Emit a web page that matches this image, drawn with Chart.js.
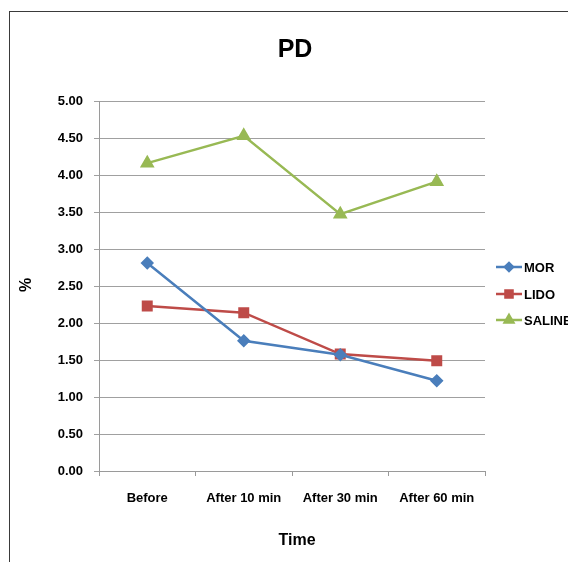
<!DOCTYPE html>
<html>
<head>
<meta charset="utf-8">
<script src="https://cdn.jsdelivr.net/npm/chart.js@4"></script>
<style>
    body { margin: 0; background: #fff; }
    #wrap { position: relative; width: 568px; height: 562px; overflow: hidden; }
    #frame { position: absolute; left: 9px; top: 11px; width: 600px; height: 600px; border: 1px solid #3a3a3a; }
    #PD__canvas { position: absolute; left: 0; top: 0; }
</style>
</head>
<body>
<div id="wrap">
    <div id="frame"></div>
    <canvas id="PD__canvas" width="568" height="562"></canvas>
</div>
<script>
var categories = ['Before', 'After 10 min', 'After 30 min', 'After 60 min'];
var mor = [2.81, 1.76, 1.57, 1.22];
var lido = [2.23, 2.14, 1.58, 1.49];
var saline = [4.16, 4.53, 3.47, 3.91];
var seriesNames = ['MOR', 'LIDO', 'SALINE'];

var boldFont = "'Liberation Sans', Arial, sans-serif";

// title, axis titles and legend drawn by hand
var extras = {
    id: 'extras',
    afterDraw: function (chart) {
        var c = chart.ctx;
        c.save();
        c.fillStyle = '#000';
        c.textAlign = 'center';
        c.textBaseline = 'middle';
        c.font = 'bold 25px ' + boldFont;
        c.fillText('PD', 295, 50);
        c.font = 'bold 16px ' + boldFont;
        c.fillText('Time', 297, 541);
        c.save();
        c.translate(27, 285);
        c.rotate(-Math.PI / 2);
        c.fillText('%', 0, 0);
        c.restore();

        var ys = [267, 294, 320];
        chart.data.datasets.forEach(function (ds, i) {
            var y = ys[i];
            c.strokeStyle = ds.borderColor;
            c.lineWidth = 2.5;
            c.beginPath();
            c.moveTo(496, y);
            c.lineTo(522, y);
            c.stroke();
            Chart.helpers.drawPoint(c, {
                pointStyle: ds.pointStyle,
                radius: ds.pointRadius - 1,
                borderWidth: 1
            }, 509, y);
            c.fillStyle = ds.borderColor;
            c.fill();
            c.fillStyle = '#000';
            c.textAlign = 'left';
            c.font = 'bold 13px ' + boldFont;
            c.fillText(ds.label, 524, y + 1);
        });
        c.restore();
    }
};

function PD_status() {
    var ctr = document.getElementById('PD__canvas');
    var line = new Chart(ctr, {
        type: 'line',
        data: {
            labels: categories,
            datasets: [{
                label: seriesNames[0],
                data: mor,
                borderColor: '#4A7EBB',
                backgroundColor: '#4A7EBB',
                pointStyle: 'rectRot',
                pointRadius: 5,
                borderWidth: 2.5,
                tension: 0
            }, {
                label: seriesNames[1],
                data: lido,
                borderColor: '#BE4B48',
                backgroundColor: '#BE4B48',
                pointStyle: 'rect',
                pointRadius: 6,
                borderWidth: 2.5,
                tension: 0
            }, {
                label: seriesNames[2],
                data: saline,
                borderColor: '#98B954',
                backgroundColor: '#98B954',
                pointStyle: 'triangle',
                pointRadius: 6,
                borderWidth: 2.5,
                tension: 0
            }]
        },
        options: {
            responsive: false,
            animation: false,
            layout: {
                padding: { left: 50, top: 101, right: 83, bottom: 41 }
            },
            plugins: {
                legend: { display: false },
                title: { display: false },
                tooltip: { enabled: false }
            },
            scales: {
                x: {
                    offset: true,
                    afterFit: function (scale) { scale.height = 50; },
                    grid: {
                        offset: true,
                        drawOnChartArea: false,
                        drawTicks: true,
                        tickLength: 5,
                        color: '#9a9a9a'
                    },
                    border: { color: '#9a9a9a' },
                    ticks: {
                        color: '#000',
                        padding: 15,
                        maxRotation: 0,
                        font: { family: boldFont, size: 13, weight: 'bold' }
                    }
                },
                y: {
                    min: 0,
                    max: 5,
                    afterFit: function (scale) { scale.width = 49; },
                    grid: {
                        color: '#a0a0a0',
                        tickLength: 5
                    },
                    border: { color: '#9a9a9a' },
                    ticks: {
                        stepSize: 0.5,
                        color: '#000',
                        padding: 11,
                        font: { family: boldFont, size: 13, weight: 'bold' },
                        callback: function (v) { return v.toFixed(2); }
                    }
                }
            }
        },
        plugins: [extras]
    });
}

PD_status();
</script>
</body>
</html>
